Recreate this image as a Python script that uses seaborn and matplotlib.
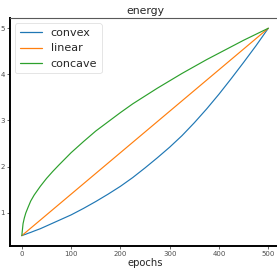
import matplotlib
matplotlib.use("Agg")
import matplotlib.pyplot as plt
import seaborn as sns
import pandas as pd

epochs = [0, 2.5, 5, 8, 12.5, 18, 25, 37.5, 50, 62.5, 75, 100, 125, 150, 175,
          200, 225, 250, 275, 300, 325, 350, 375, 400, 425, 450, 475, 500]
convex = [0.50, 0.51, 0.52, 0.53, 0.55, 0.57, 0.60, 0.65, 0.71, 0.77, 0.83,
          0.95, 1.09, 1.24, 1.40, 1.57, 1.76, 1.97, 2.19, 2.42, 2.67, 2.95,
          3.25, 3.57, 3.91, 4.26, 4.62, 5.00]
linear = [0.50, 0.5225, 0.545, 0.572, 0.6125, 0.662, 0.725, 0.8375, 0.95,
          1.0625, 1.175, 1.40, 1.625, 1.85, 2.075, 2.30, 2.525, 2.75, 2.975,
          3.20, 3.425, 3.65, 3.875, 4.10, 4.325, 4.55, 4.775, 5.00]
concave = [0.50, 0.76, 0.88, 0.99, 1.11, 1.25, 1.38, 1.57, 1.74, 1.89, 2.03,
           2.30, 2.54, 2.77, 2.97, 3.17, 3.36, 3.53, 3.70, 3.86, 4.02, 4.17,
           4.32, 4.46, 4.60, 4.74, 4.87, 5.00]
series_names = ["convex", "linear", "concave"]

rows = []
for name, vals in zip(series_names, [convex, linear, concave]):
    for e, v in zip(epochs, vals):
        rows.append({"epochs": e, "energy": v, "schedule": name})
df = pd.DataFrame(rows)

sns.set_theme(style="white")
plt.rcParams['font.family'] = ['DejaVu Sans']

fig = plt.figure(figsize=(2.77, 2.70), dpi=100)
ax = fig.add_axes([9.5 / 277, 24 / 270, 271.1 / 277, 228.1 / 270])

palette = ["#1f77b4", "#ff7f0e", "#2ca02c"]
sns.lineplot(data=df, x="epochs", y="energy", hue="schedule",
             hue_order=series_names, palette=palette, linewidth=0.85,
             ax=ax, legend=True)

ax.set_xlim(-25, 525)
ax.set_ylim(0.275, 5.225)
ax.set_xticks([0, 100, 200, 300, 400, 500])
ax.set_yticks([1, 2, 3, 4, 5])
ax.tick_params(axis="both", labelsize=5, length=2, width=0.6, pad=1.5,
               colors="0.3", bottom=True, left=True)
ax.set_xlabel("epochs", fontsize=7.2, labelpad=1)
ax.set_ylabel("")
ax.set_title("energy", fontsize=7.8, pad=3)

for side in ["left", "bottom"]:
    ax.spines[side].set_color("black")
    ax.spines[side].set_linewidth(1.4)
ax.spines["top"].set_color("0.35")
ax.spines["top"].set_linewidth(0.8)
ax.spines["right"].set_visible(False)

leg = ax.legend(loc="upper left", fontsize=8.0, frameon=True,
                borderpad=0.4, labelspacing=0.5, handlelength=2.0,
                handletextpad=0.8, borderaxespad=0.5)
leg.get_frame().set_edgecolor("0.85")
leg.get_frame().set_linewidth(0.6)
for line in leg.get_lines():
    line.set_linewidth(0.9)

fig.savefig("out.png", dpi=100)
